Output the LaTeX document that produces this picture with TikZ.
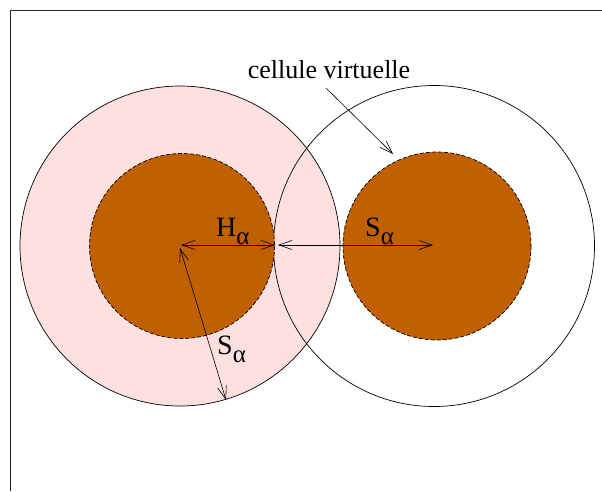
\documentclass[tikz,border=0pt]{standalone}
\usepackage{fontspec}
\setmainfont{Liberation Serif}
\usetikzlibrary{arrows.meta}
\definecolor{pinkfill}{RGB}{255,224,224}
\definecolor{brownfill}{RGB}{192,96,0}
\tikzset{
  outercirc/.style={draw=black,line width=0.7pt},
  innercirc/.style={draw=black,fill=brownfill,line width=0.7pt,dash pattern=on 4pt off 2pt},
  dim/.style={line width=0.6pt,{Straight Barb[length=13pt,width=9pt]}-{Straight Barb[length=13pt,width=9pt]}},
  pointer/.style={line width=0.6pt,-{Straight Barb[length=13pt,width=9pt]}},
  lbl/.style={inner sep=0pt,font=\fontsize{28}{30}\selectfont}
}
\newcommand{\alphasub}{\raisebox{-8pt}{\fontsize{25}{27}\selectfont α}}
\begin{document}
\begin{tikzpicture}[x=1pt,y=-1pt]
\useasboundingbox (0,0) rectangle (602,491);
% frame
\draw[line width=0.8pt,draw=black!85] (10,491) |- (602,10);
% circles
\coordinate (cL) at (180,246);
\coordinate (cR) at (434,246);
\fill[pinkfill] (cL) circle (160);
\draw[outercirc] (cL) circle (160);
\draw[outercirc] (cR) circle (160.5);
\draw[innercirc] (182,246) circle (92.5);
\draw[innercirc] (437,246) circle (94);
% arrow end points
\coordinate (hL) at (181,245);
\coordinate (hR) at (275,245);
\coordinate (sL) at (278,245);
\coordinate (sR) at (433,245);
\coordinate (rS) at (180,248);
\coordinate (rE) at (226,400);
\coordinate (vA) at (326,88);
\coordinate (vB) at (393,154);
\draw[dim] (hL) -- (hR);
\draw[dim] (sL) -- (sR);
\draw[dim] (rS) -- (rE);
\draw[pointer] (vA) -- (vB);
% labels
\node[lbl,anchor=base west] (lH) at (216,236) {H\alphasub};
\node[lbl,anchor=base west] (lS1) at (365,236) {S\alphasub};
\node[lbl,anchor=base west] (lS2) at (217,354) {S\alphasub};
\node[inner sep=0pt,anchor=base,font=\fontsize{26}{28}\selectfont] (cv) at (329,78) {cellule virtuelle};
\end{tikzpicture}
\end{document}
